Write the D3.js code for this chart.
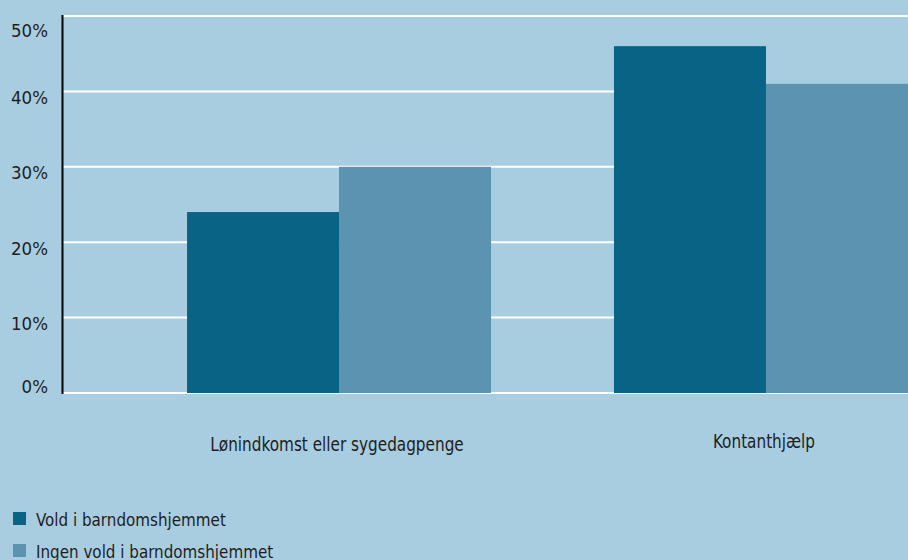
<!DOCTYPE html>
<html>
<head>
<meta charset="utf-8">
<script src="https://cdn.jsdelivr.net/npm/d3@7"></script>
<style>
  html, body { margin: 0; padding: 0; background: #a8cde0; }
  svg { display: block; }
  text { font-family: "DejaVu Sans Condensed", "Liberation Sans Narrow", "Open Sans", sans-serif; fill: #1e1e1e; }
</style>
</head>
<body>
<svg id="chart" width="908" height="560"></svg>
<script>
// Andel (%) fordelt på forsørgelsesgrundlag
const categories = ["Lønindkomst eller sygedagpenge", "Kontanthjælp"];
const seriesNames = ["Vold i barndomshjemmet", "Ingen vold i barndomshjemmet"];
const voldValues = [24, 46];
const ingenVoldValues = [30, 41];
const yTicks = [0, 10, 20, 30, 40, 50];
const seriesColors = ["#086384", "#5b93b0"];

const width = 908, height = 560;
const svg = d3.select("#chart");

svg.append("rect").attr("width", width).attr("height", height).attr("fill", "#a8cde0");

const plotLeft = 63, plotRight = 908, plotTop = 16, plotBottom = 393;

const y = d3.scaleLinear().domain([0, 50]).range([plotBottom, plotTop]);

const x0 = d3.scaleBand()
  .domain(categories)
  .range([126, 979])
  .paddingInner(0.288)
  .paddingOuter(0.143);

const x1 = d3.scaleBand()
  .domain(seriesNames)
  .range([0, x0.bandwidth()])
  .padding(0);

const color = d3.scaleOrdinal().domain(seriesNames).range(seriesColors);

// narrow the condensed face a little further, keeping glyph height
function condense(sel, factor) {
  sel.each(function () {
    const w = this.getComputedTextLength();
    d3.select(this).attr("textLength", w * factor).attr("lengthAdjust", "spacingAndGlyphs");
  });
}

// white gridlines
svg.append("g")
  .selectAll("line")
  .data(yTicks)
  .join("line")
  .attr("x1", plotLeft)
  .attr("x2", plotRight)
  .attr("y1", d => y(d))
  .attr("y2", d => y(d))
  .attr("stroke", "#ffffff")
  .attr("stroke-width", 2);

// bars
const rows = categories.map((c, i) => ({
  category: c,
  values: [
    { key: seriesNames[0], value: voldValues[i] },
    { key: seriesNames[1], value: ingenVoldValues[i] }
  ]
}));

const groups = svg.append("g")
  .selectAll("g")
  .data(rows)
  .join("g")
  .attr("transform", d => `translate(${x0(d.category)},0)`);

groups.selectAll("rect")
  .data(d => d.values)
  .join("rect")
  .attr("x", d => x1(d.key))
  .attr("width", x1.bandwidth())
  .attr("y", d => y(d.value))
  .attr("height", d => y(0) - y(d.value))
  .attr("fill", d => color(d.key));

// vertical axis line
svg.append("line")
  .attr("x1", plotLeft - 0.5).attr("x2", plotLeft - 0.5)
  .attr("y1", plotTop - 1).attr("y2", plotBottom + 1)
  .attr("stroke", "#000").attr("stroke-width", 2);

// tick labels, nudged below each gridline and kept within the plot height
svg.append("g")
  .selectAll("text")
  .data(yTicks)
  .join("text")
  .attr("x", 48)
  .attr("y", d => Math.min(Math.max(y(d) + 6, plotTop + 15), plotBottom - 6))
  .attr("dy", "0.35em")
  .attr("text-anchor", "end")
  .attr("font-size", 18.5)
  .text(d => d + "%");

// category labels
svg.append("g")
  .selectAll("text")
  .data(categories)
  .join("text")
  .attr("x", d => x0(d) + x0.bandwidth() / 2 - 2)
  .attr("y", (d, i) => i === 0 ? 450.5 : 448)
  .attr("text-anchor", "middle")
  .attr("font-size", 19.5)
  .text(d => d)
  .call(condense, 0.87);

// legend
const legend = svg.append("g")
  .selectAll("g")
  .data(seriesNames)
  .join("g")
  .attr("transform", (d, i) => `translate(13,${512 + i * 32})`);

legend.append("rect")
  .attr("width", 13).attr("height", 13)
  .attr("fill", d => color(d));

legend.append("text")
  .attr("x", 23).attr("y", 13.5)
  .attr("font-size", 18.5)
  .text(d => d)
  .call(condense, 0.91);
</script>
</body>
</html>
